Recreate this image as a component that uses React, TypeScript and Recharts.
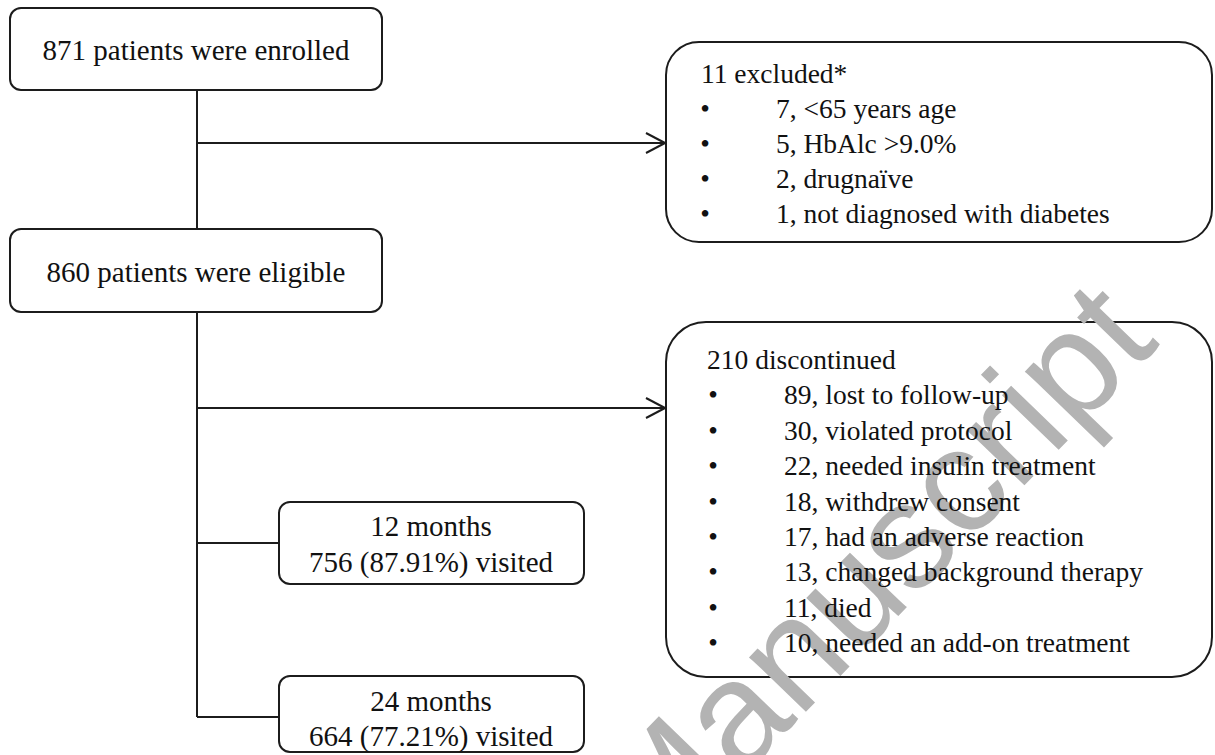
import { ScatterChart, Scatter, XAxis, YAxis, ReferenceArea, ReferenceLine } from "recharts";

// flowchart content
const enrolledCount = 871;
const eligibleCount = 860;
const excludedTotal = 11;
const excludedCounts = [7, 5, 2, 1];
const excludedReasons = ["<65 years age", "HbAlc >9.0%", "drugnaïve", "not diagnosed with diabetes"];
const discontinuedTotal = 210;
const discontinuedCounts = [89, 30, 22, 18, 17, 13, 11, 10];
const discontinuedReasons = [
  "lost to follow-up",
  "violated protocol",
  "needed insulin treatment",
  "withdrew consent",
  "had an adverse reaction",
  "changed background therapy",
  "died",
  "needed an add-on treatment",
];
const visitMonths = [12, 24];
const visitCounts = [756, 664];
const visitPercents = ["87.91", "77.21"];
const watermark = "Manuscript";

// layout in page pixels, mapped through hidden axes
const W = 1215;
const H = 755;
const boxes = [
  { x1: 10, x2: 382, y1: 8, y2: 90, r: 11 },
  { x1: 10, x2: 382, y1: 229, y2: 312, r: 11 },
  { x1: 666, x2: 1212, y1: 42, y2: 242, r: 33 },
  { x1: 666, x2: 1212, y1: 322, y2: 677, r: 40 },
  { x1: 279, x2: 584, y1: 502, y2: 584, r: 11 },
  { x1: 279, x2: 584, y1: 676, y2: 752, r: 11 },
];
const spineX = 197;
const segments = [
  [spineX, 90, spineX, 229],
  [spineX, 312, spineX, 717],
  [spineX, 143, 665, 143],
  [spineX, 408, 665, 408],
  [spineX, 543, 279, 543],
  [spineX, 717, 279, 717],
];
const arrowTips = [
  [665, 143],
  [665, 408],
];

const INK = "#1c1c1c";
const serif = "Liberation Serif, Times New Roman, DejaVu Serif, serif";

type TextPoint = { x: number; y: number; text: string; anchor: string; size: number };

const centerRows: TextPoint[] = [
  { x: 196, y: 60, text: `${enrolledCount} patients were enrolled`, anchor: "middle", size: 29 },
  { x: 196, y: 282, text: `${eligibleCount} patients were eligible`, anchor: "middle", size: 29 },
  ...visitMonths.flatMap((m, i) => [
    { x: 431, y: [536, 711][i], text: `${m} months`, anchor: "middle", size: 29 },
    { x: 431, y: [572, 746][i], text: `${visitCounts[i]} (${visitPercents[i]}%) visited`, anchor: "middle", size: 29 },
  ]),
];

function listRows(left: number, bullet: number, item: number, top: number, step: number, title: string, counts: number[], reasons: string[]): TextPoint[] {
  const rows: TextPoint[] = [{ x: left, y: top, text: title, anchor: "start", size: 27.5 }];
  counts.forEach((c, i) => {
    const y = top + step * (i + 1);
    rows.push({ x: bullet, y, text: "•", anchor: "middle", size: 27.5 });
    rows.push({ x: item, y, text: `${c}, ${reasons[i]}`, anchor: "start", size: 27.5 });
  });
  return rows;
}

const textRows: TextPoint[] = [
  ...centerRows,
  ...listRows(701, 705, 776, 83, 35, `${excludedTotal} excluded*`, excludedCounts, excludedReasons),
  ...listRows(707, 713, 784, 369, 35.4, `${discontinuedTotal} discontinued`, discontinuedCounts, discontinuedReasons),
];

const watermarkPoint = [{ x: 908, y: 606, text: watermark }];

const renderText = (props: any) => {
  const { cx, cy, payload } = props;
  return (
    <text x={cx} y={cy} textAnchor={payload.anchor} style={{ fontFamily: serif, fontSize: payload.size, fill: "#111" }}>
      {payload.text}
    </text>
  );
};

const renderWatermark = (props: any) => {
  const { cx, cy, payload } = props;
  return (
    <text
      x={cx}
      y={cy}
      textAnchor="middle"
      style={{ fontFamily: "Liberation Sans, Arial, sans-serif", fontSize: 149, fill: "#b3b3b3" }}
      transform={`rotate(-46 ${cx} ${cy})`}
    >
      {payload.text}
    </text>
  );
};

export default function App() {
  return (
    <div style={{ width: W, height: H, background: "#fff" }}>
      <style>{`body{margin:0}`}</style>
      <ScatterChart width={W} height={H} margin={{ top: 0, right: 0, bottom: 0, left: 0 }}>
        <XAxis type="number" dataKey="x" domain={[0, W]} hide allowDataOverflow />
        <YAxis type="number" dataKey="y" domain={[0, H]} reversed hide allowDataOverflow />
        <Scatter data={watermarkPoint} shape={renderWatermark} isAnimationActive={false} />
        {boxes.map((b, i) => (
          <ReferenceArea
            key={`box-${i}`}
            x1={b.x1}
            x2={b.x2}
            y1={b.y1}
            y2={b.y2}
            ifOverflow="visible"
            shape={(p: any) => (
              <rect x={p.x} y={p.y} width={p.width} height={p.height} rx={b.r} ry={b.r} fill="none" stroke={INK} strokeWidth={2} />
            )}
          />
        ))}
        {segments.map((s, i) => (
          <ReferenceLine
            key={`seg-${i}`}
            segment={[{ x: s[0], y: s[1] }, { x: s[2], y: s[3] }]}
            stroke={INK}
            strokeWidth={2}
            ifOverflow="visible"
          />
        ))}
        {arrowTips.flatMap((t, i) => [
          <ReferenceLine
            key={`ah-a-${i}`}
            segment={[{ x: t[0] - 19, y: t[1] - 10 }, { x: t[0], y: t[1] }]}
            stroke={INK}
            strokeWidth={2}
            ifOverflow="visible"
          />,
          <ReferenceLine
            key={`ah-b-${i}`}
            segment={[{ x: t[0] - 19, y: t[1] + 10 }, { x: t[0], y: t[1] }]}
            stroke={INK}
            strokeWidth={2}
            ifOverflow="visible"
          />,
        ])}
        <Scatter data={textRows} shape={renderText} isAnimationActive={false} />
      </ScatterChart>
    </div>
  );
}
